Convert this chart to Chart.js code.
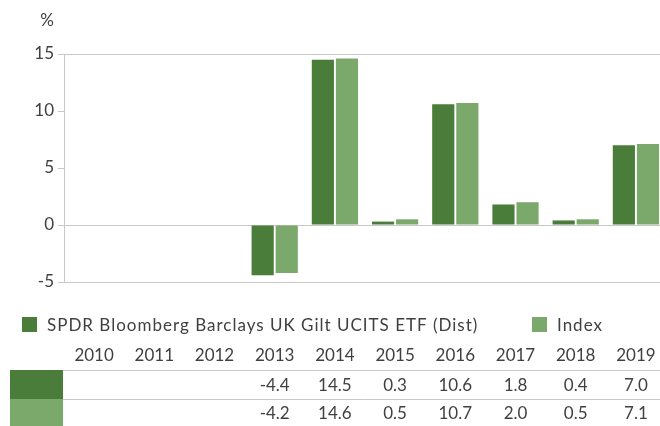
<!DOCTYPE html>
<html>
<head>
<meta charset="utf-8">
<script src="https://cdn.jsdelivr.net/npm/chart.js@4/dist/chart.umd.min.js"></script>
<style>
html,body{margin:0;padding:0;overflow:hidden;background:#fff;}
#wrap{width:666px;height:426px;position:relative;}
</style>
</head>
<body>
<div id="wrap"><canvas id="c"></canvas></div>
<script>
const years = ['2010','2011','2012','2013','2014','2015','2016','2017','2018','2019'];
const fundValues = [null, null, null, -4.4, 14.5, 0.3, 10.6, 1.8, 0.4, 7.0];
const indexValues = [null, null, null, -4.2, 14.6, 0.5, 10.7, 2.0, 0.5, 7.1];
const seriesNames = ['SPDR Bloomberg Barclays UK Gilt UCITS ETF (Dist)', 'Index'];
const yTicks = [-5, 0, 5, 10, 15];
const unitLabel = '%';

const DARK = '#4a7c3a';
const LIGHT = '#7aa96b';
const TEXT = '#404040';
const GRID = '#c8c8c8';
const FONT = 'Lato, "Open Sans", sans-serif';

const tablePlugin = {
  id: 'tablePlugin',
  afterDraw(chart) {
    const ctx = chart.ctx;
    const xs = chart.scales.x;
    const ds = chart.data.datasets;
    ctx.save();
    ctx.fillStyle = TEXT;
    ctx.font = '17px ' + FONT;
    ctx.textAlign = 'center';
    ctx.textBaseline = 'middle';
    // unit label
    ctx.fillText(unitLabel, 47, 21);
    // legend
    const legX = [22, 532];
    ctx.textAlign = 'left';
    ctx.letterSpacing = '1px';
    ds.forEach((d, i) => {
      ctx.fillStyle = d.backgroundColor;
      ctx.fillRect(legX[i], 317, 15, 15);
      ctx.fillStyle = TEXT;
      ctx.fillText(d.label, legX[i] + 25, 326);
    });
    ctx.letterSpacing = '0px';
    // table lines
    ctx.strokeStyle = GRID;
    ctx.lineWidth = 1;
    [370.5, 399.5].forEach(y => {
      ctx.beginPath(); ctx.moveTo(63, y); ctx.lineTo(chart.width, y); ctx.stroke();
    });
    // swatches
    ctx.fillStyle = ds[0].backgroundColor;
    ctx.fillRect(10, 370, 53, 29);
    ctx.fillStyle = ds[1].backgroundColor;
    ctx.fillRect(10, 399, 53, 27);
    // header + values
    ctx.fillStyle = TEXT;
    ctx.textAlign = 'center';
    chart.data.labels.forEach((lab, i) => {
      const x = xs.getPixelForValue(i);
      ctx.fillText(lab, x, 356);
      const v0 = ds[0].data[i], v1 = ds[1].data[i];
      if (v0 !== null) ctx.fillText(v0.toFixed(1), x, 386);
      if (v1 !== null) ctx.fillText(v1.toFixed(1), x, 414);
    });
    ctx.restore();
  }
};

new Chart(document.getElementById('c'), {
  type: 'bar',
  data: {
    labels: years,
    datasets: [
      { label: seriesNames[0], data: fundValues, backgroundColor: DARK },
      { label: seriesNames[1], data: indexValues, backgroundColor: LIGHT }
    ]
  },
  options: {
    responsive: true,
    maintainAspectRatio: false,
    animation: false,
    events: [],
    layout: { padding: { top: 54, bottom: 144, left: 0, right: 0 } },
    plugins: { legend: { display: false }, tooltip: { enabled: false } },
    datasets: { bar: { categoryPercentage: 0.8, barPercentage: 0.92 } },
    scales: {
      x: { display: false },
      y: {
        min: -5, max: 15,
        afterBuildTicks(scale) { scale.ticks = yTicks.map(v => ({ value: v })); },
        afterFit(scale) { scale.width = 64; },
        ticks: { color: TEXT, font: { family: FONT, size: 17 }, padding: 4 },
        grid: {
          color: c => (c.tick && (c.tick.value === 10 || c.tick.value === 5)) ? 'rgba(0,0,0,0)' : GRID,
          tickColor: GRID,
          tickLength: 6,
          drawTicks: true
        },
        border: { display: true, color: GRID }
      }
    }
  },
  plugins: [tablePlugin]
});
</script>
</body>
</html>
